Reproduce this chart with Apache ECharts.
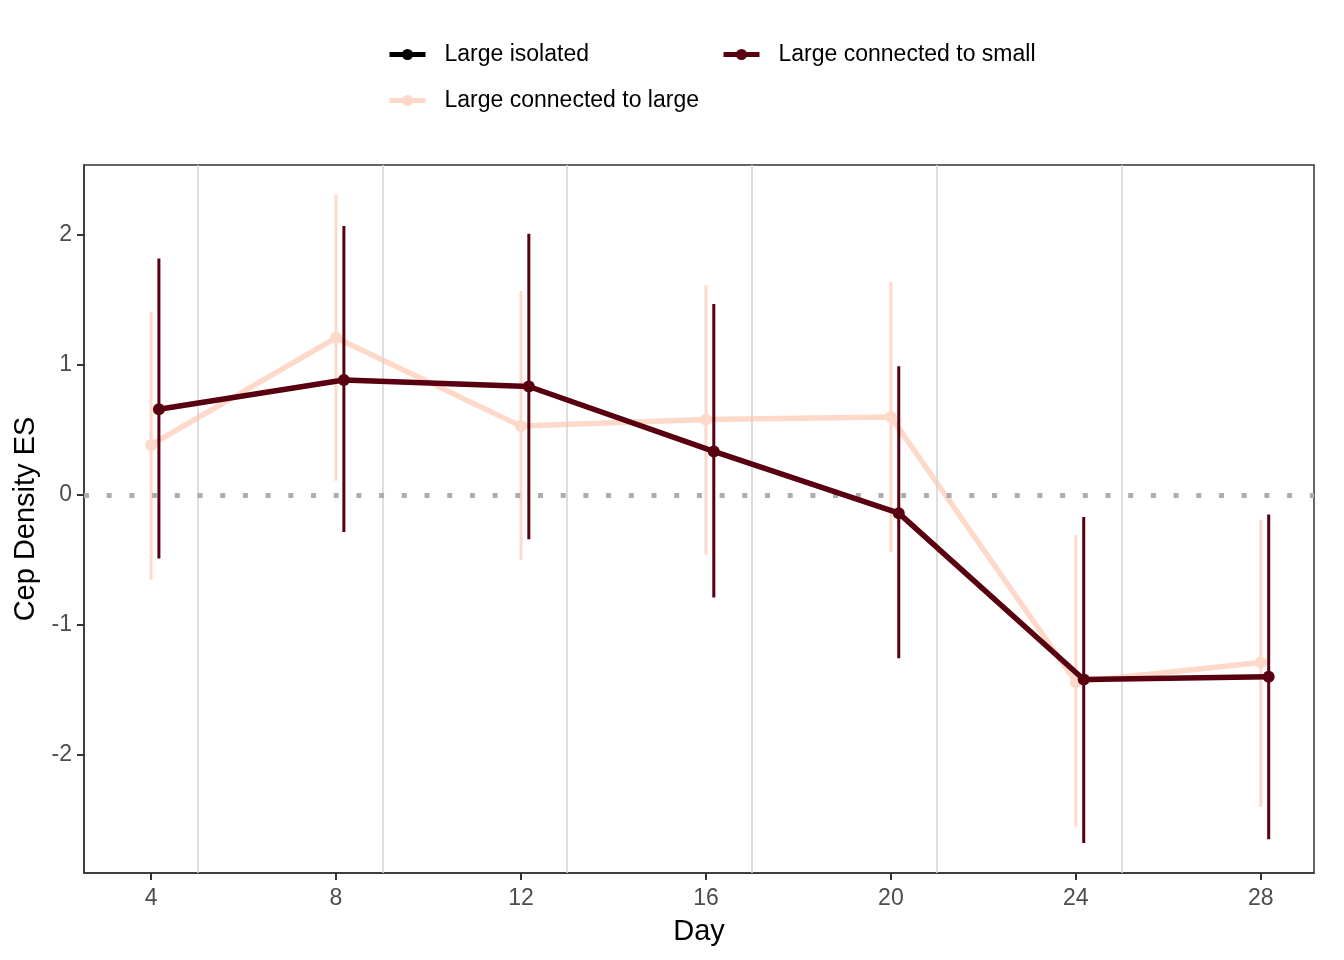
<!DOCTYPE html>
<html style="height: 100%">

<head>
    <meta charset="utf-8">
    <title>Cep Density ES by Day</title>
</head>

<body style="height: 100%; margin: 0; background: #fff">
    <div id="container" style="width: 1344px; height: 960px"></div>
    <script src="https://cdn.jsdelivr.net/npm/echarts@6/dist/echarts.min.js"></script>
    <script type="text/javascript">
        var myChart = echarts.init(document.getElementById('container'));

        // data
        var days = [4, 8, 12, 16, 20, 24, 28];
        var xTicks = [4, 8, 12, 16, 20, 24, 28];
        var yTicks = [-2, -1, 0, 1, 2];
        var dividerDays = [5, 9, 13, 17, 21, 25];

        var largeLargeMean = [0.385, 1.21, 0.53, 0.58, 0.60, -1.44, -1.29];
        var largeLargeLow = [-0.65, 0.11, -0.50, -0.46, -0.44, -2.55, -2.40];
        var largeLargeHigh = [1.41, 2.31, 1.57, 1.615, 1.64, -0.31, -0.19];

        var largeSmallMean = [0.66, 0.885, 0.835, 0.335, -0.14, -1.42, -1.40];
        var largeSmallLow = [-0.49, -0.285, -0.34, -0.79, -1.256, -2.68, -2.65];
        var largeSmallHigh = [1.82, 2.07, 2.01, 1.47, 0.99, -0.17, -0.15];

        var colIsolated = '#000000';
        var colLarge = '#FED9CA';
        var colSmall = '#580010';
        var font = 'Liberation Sans, Arial, sans-serif';

        function points(offset, vals) {
            return days.map(function (d, i) { return [d + offset, vals[i]]; });
        }
        function bars(offset, lo, hi) {
            return days.map(function (d, i) { return [d + offset, lo[i], hi[i]]; });
        }
        function errorBar(color) {
            return function (params, api) {
                var a = api.coord([api.value(0), api.value(1)]);
                var b = api.coord([api.value(0), api.value(2)]);
                return {
                    type: 'line',
                    shape: { x1: a[0], y1: a[1], x2: b[0], y2: b[1] },
                    style: { stroke: color, lineWidth: 3 }
                };
            };
        }

        var legendText = { fontFamily: font, fontSize: 23, color: '#000', lineHeight: 23, padding: [0, 0, 0, 14] };
        var legendBase = {
            top: 38,
            orient: 'vertical',
            itemWidth: 36,
            itemHeight: 14,
            itemGap: 23,
            textStyle: legendText,
            lineStyle: { width: 5 }
        };

        var option = {
            animation: false,
            textStyle: { fontFamily: font },
            legend: [
                Object.assign({ left: 382, data: ['Large isolated', 'Large connected to large'] }, legendBase),
                Object.assign({ left: 716, data: ['Large connected to small'] }, legendBase)
            ],
            grid: {
                left: 84,
                right: 30,
                top: 165,
                bottom: 87,
                outerBoundsMode: 'none',
                show: true,
                borderColor: '#333333',
                borderWidth: 1.5
            },
            xAxis: {
                type: 'value',
                min: 2.55,
                max: 29.15,
                name: 'Day',
                nameLocation: 'middle',
                nameGap: 44,
                nameTextStyle: { fontFamily: font, fontSize: 29, color: '#000' },
                axisLine: { show: true, onZero: false, lineStyle: { color: '#333333', width: 1.5 } },
                axisTick: { show: true, length: 7, customValues: xTicks, lineStyle: { color: '#333333', width: 2 } },
                axisLabel: { customValues: xTicks, margin: 14, fontSize: 23, color: '#4D4D4D' },
                splitLine: { show: false }
            },
            yAxis: {
                type: 'value',
                min: -2.91,
                max: 2.54,
                name: 'Cep Density ES',
                nameLocation: 'middle',
                nameGap: 43,
                nameTextStyle: { fontFamily: font, fontSize: 29, color: '#000' },
                axisLine: { show: true, onZero: false, lineStyle: { color: '#333333', width: 1.5 } },
                axisTick: { show: true, length: 7, customValues: yTicks, lineStyle: { color: '#333333', width: 2 } },
                axisLabel: { customValues: yTicks, margin: 12, fontSize: 23, color: '#4D4D4D' },
                splitLine: { show: false }
            },
            series: [{
                name: 'guides',
                type: 'line',
                data: [],
                silent: true,
                z: 1,
                markLine: {
                    silent: true,
                    symbol: 'none',
                    label: { show: false },
                    data: dividerDays.map(function (d) {
                        return { xAxis: d, lineStyle: { color: '#D3D3D3', width: 1.5, type: 'solid' } };
                    }).concat([{ yAxis: 0, lineStyle: { color: '#ADADAD', width: 5, type: [5, 17.7] } }])
                }
            }, {
                name: 'Large isolated',
                type: 'line',
                data: [],
                color: colIsolated,
                symbol: 'circle',
                symbolSize: 12,
                lineStyle: { width: 5.5 }
            }, {
                name: 'Large connected to large bars',
                type: 'custom',
                renderItem: errorBar(colLarge),
                data: bars(0, largeLargeLow, largeLargeHigh),
                encode: { x: 0, y: [1, 2] },
                z: 2
            }, {
                name: 'Large connected to large',
                type: 'line',
                data: points(0, largeLargeMean),
                color: colLarge,
                symbol: 'circle',
                symbolSize: 12,
                lineStyle: { width: 5.5 },
                z: 3
            }, {
                name: 'Large connected to small bars',
                type: 'custom',
                renderItem: errorBar(colSmall),
                data: bars(0.17, largeSmallLow, largeSmallHigh),
                encode: { x: 0, y: [1, 2] },
                z: 4
            }, {
                name: 'Large connected to small',
                type: 'line',
                data: points(0.17, largeSmallMean),
                color: colSmall,
                symbol: 'circle',
                symbolSize: 12,
                lineStyle: { width: 5.5 },
                z: 5
            }]
        };
        myChart.setOption(option);
    </script>
</body>

</html>
